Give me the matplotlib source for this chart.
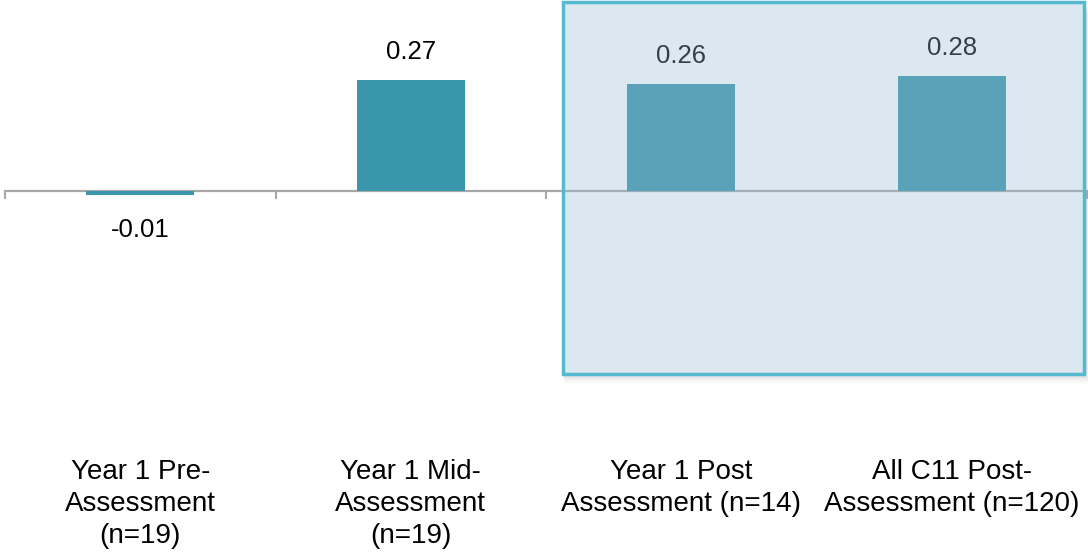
import matplotlib
matplotlib.use("Agg")
import matplotlib.pyplot as plt
from matplotlib.patches import Rectangle
import numpy as np

plt.rcParams['font.family'] = ['Liberation Sans', 'DejaVu Sans']

categories = ["Year 1 Pre-\nAssessment\n(n=19)",
              "Year 1 Mid-\nAssessment\n(n=19)",
              "Year 1 Post\nAssessment (n=14)",
              "All C11 Post-\nAssessment (n=120)"]
values = [-0.01, 0.27, 0.26, 0.28]
value_labels = ["-0.01", "0.27", "0.26", "0.28"]

bar_color = "#3a96aa"
axis_color = "#a8a8a8"

W, H = 1088, 552
fig = plt.figure(figsize=(W / 100, H / 100), dpi=100)
ax = fig.add_axes([5 / W, 0, 1082 / W, 1])

px_per_unit = 411.0
base_px = 191.0
ax.set_ylim(-(H - base_px) / px_per_unit, base_px / px_per_unit)
ax.set_xlim(0, len(categories))

x = np.arange(len(categories)) + 0.5
ax.bar(x, values, width=0.4, color=bar_color, zorder=2)

for xi, v, lab in zip(x, values, value_labels):
    off = 20 if v >= 0 else -25
    ax.annotate(lab, (xi, v), xytext=(0, off), textcoords="offset points",
                ha="center", va="center", fontsize=18.5, color="black", zorder=3)

# axis line through zero with boundary ticks
for s in ["top", "right", "left"]:
    ax.spines[s].set_visible(False)
ax.spines["bottom"].set_position(("data", 0))
ax.spines["bottom"].set_color(axis_color)
ax.spines["bottom"].set_linewidth(1.6)
ax.spines["bottom"].set_zorder(1.8)
ax.set_yticks([])
ax.set_xticks(np.arange(len(categories) + 1), minor=True)
ax.tick_params(axis="x", which="minor", length=6, width=1.5, color=axis_color, direction="out")
ax.set_xticks(x)
ax.set_xticklabels(categories, fontsize=20, linespacing=1.3)
ax.tick_params(axis="x", which="major", length=0, pad=193)

# highlighted region over the post-assessment bars
x0, x1 = 2.063, 3.989
y0, y1 = -0.445, 0.46
for i, a in enumerate([0.05, 0.05, 0.045, 0.035, 0.025]):
    d = (i + 1) * 0.004
    ax.add_patch(Rectangle((x0 + 0.004, y0 - d * 1.2), (x1 - x0) + d, (y1 - y0),
                           facecolor="#606060", edgecolor="none", alpha=a,
                           zorder=1.5, clip_on=False))
ax.add_patch(Rectangle((x0, y0), x1 - x0, y1 - y0, facecolor="white",
                       edgecolor="none", zorder=1.6, clip_on=False))
ax.add_patch(Rectangle((x0, y0), x1 - x0, y1 - y0, facecolor="#99bcd1",
                       alpha=0.34, edgecolor="none", zorder=4, clip_on=False))
ax.add_patch(Rectangle((x0, y0), x1 - x0, y1 - y0, facecolor="none",
                       edgecolor="#55bad1", linewidth=2.5, zorder=5, clip_on=False))

fig.savefig("out.png", dpi=100)
